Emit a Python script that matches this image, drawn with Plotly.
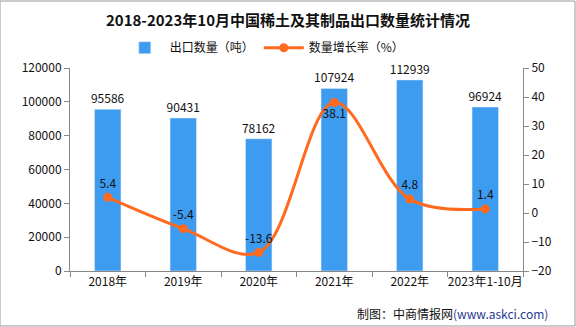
import plotly.graph_objects as go

categories = ["2018年", "2019年", "2020年", "2021年", "2022年", "2023年1-10月"]
export_qty = [95586, 90431, 78162, 107924, 112939, 96924]
growth = [5.4, -5.4, -13.6, 38.1, 4.8, 1.4]
growth_pos = ["top center", "top center", "top center", "bottom center", "top center", "top center"]

FONT = "Noto Sans CJK SC, Noto Sans, sans-serif"
BAR_C = "#3D9CF0"
LINE_C = "#FF6A1F"

fig = go.Figure()
fig.add_trace(go.Bar(
    x=categories, y=export_qty, name="出口数量（吨）",
    marker=dict(color=BAR_C), width=0.35,
    text=[str(v) for v in export_qty], textposition="outside",
    textfont=dict(size=12, color="#111"), cliponaxis=False,
    constraintext="none",
))
fig.add_trace(go.Scatter(
    x=categories, y=growth, name="数量增长率（%）", yaxis="y2",
    mode="lines+markers+text",
    line=dict(color=LINE_C, width=3, shape="spline", smoothing=1.0),
    marker=dict(color=LINE_C, size=9),
    text=[f"{v:.1f}" for v in growth], textposition=growth_pos,
    textfont=dict(size=12, color="#111"), cliponaxis=False,
))

axis_line = "#888"
fig.update_layout(
    width=576, height=327,
    margin=dict(l=70, r=53, t=68, b=56, autoexpand=False),
    paper_bgcolor="white", plot_bgcolor="white",
    font=dict(family=FONT, size=12, color="#111"),
    title=dict(text="<b>2018-2023年10月中国稀土及其制品出口数量统计情况</b>",
               x=0.5, xanchor="center", y=0.937, yanchor="middle",
               font=dict(size=15, color="#111")),
    legend=dict(orientation="h", x=0.43, xanchor="center", y=1.10, yanchor="middle",
                font=dict(size=12), bgcolor="rgba(0,0,0,0)", itemwidth=40),
    bargap=0.5,
    xaxis=dict(showline=True, linecolor=axis_line, ticks="outside", tickcolor=axis_line,
               ticklen=5, tickson="boundaries", showgrid=False, tickangle=0,
               automargin=False, tickfont=dict(size=12)),
    yaxis=dict(range=[0, 120000], dtick=20000, tickformat="d", showline=True,
               linecolor=axis_line, ticks="outside", tickcolor=axis_line, ticklen=5,
               showgrid=False, zeroline=False, automargin=False, tickfont=dict(size=12)),
    yaxis2=dict(range=[-20, 50], dtick=10, overlaying="y", side="right", showline=True,
                linecolor=axis_line, ticks="outside", tickcolor=axis_line, ticklen=5,
                showgrid=False, zeroline=False, automargin=False, tickfont=dict(size=12)),
    shapes=[dict(type="rect", xref="paper", yref="paper",
                 x0=-70/453, x1=1 + 52/453, y0=-55/203, y1=1 + 67/203,
                 line=dict(color="#999", width=1), fillcolor="rgba(0,0,0,0)")],
    annotations=[dict(text="制图：中商情报网<span style='color:#1f3a93'>(www.askci.com)</span>",
                      xref="paper", yref="paper", x=1 + 27/453, y=-42/203,
                      xanchor="right", yanchor="middle", showarrow=False,
                      font=dict(size=12, color="#111"))],
)
fig.write_html("out.html")
